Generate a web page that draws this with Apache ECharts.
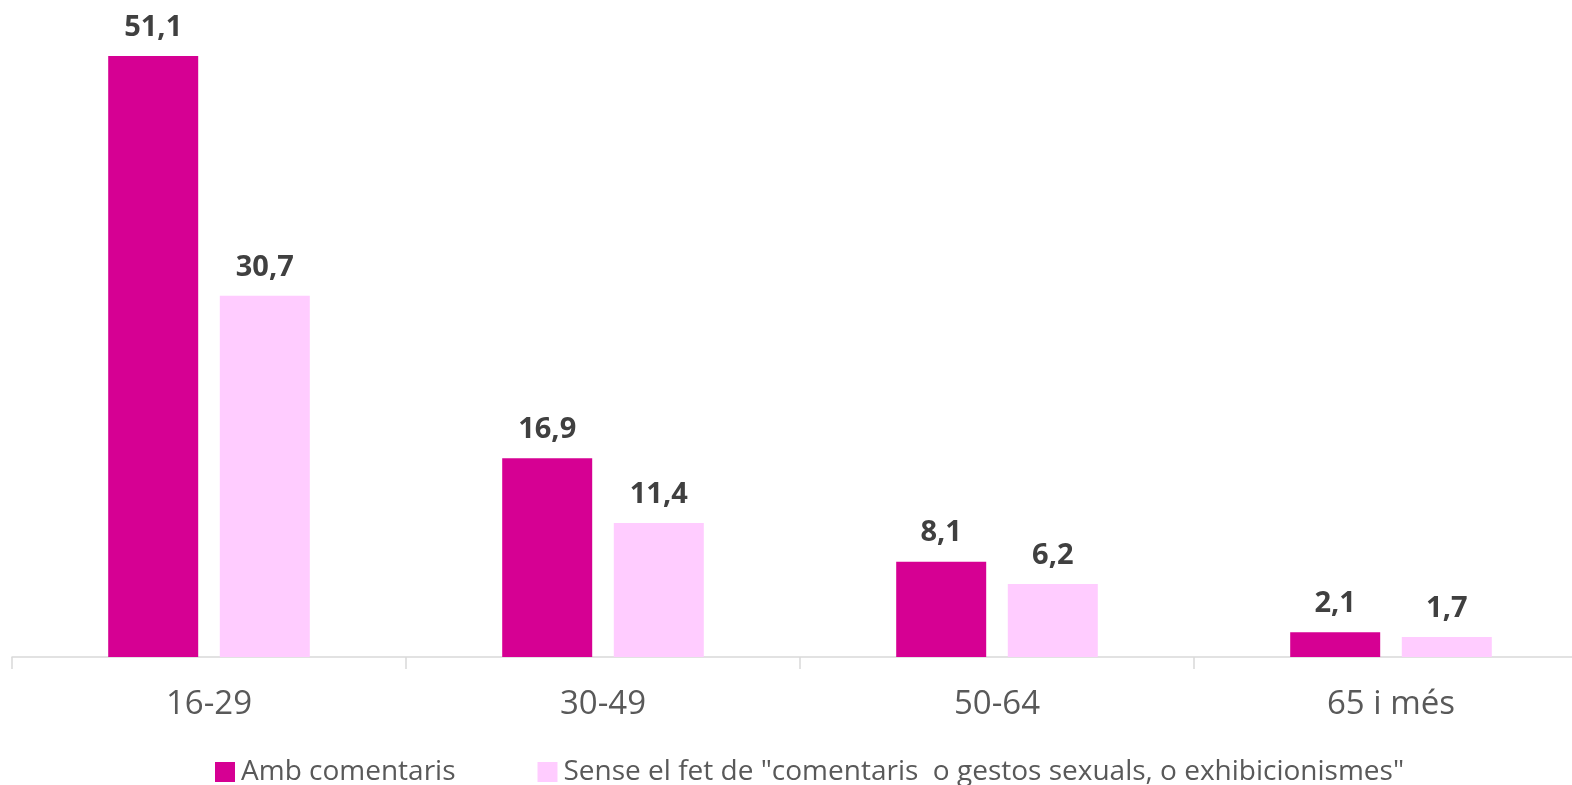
<!DOCTYPE html>
<html>
<head>
<meta charset="utf-8">
<script src="https://cdn.jsdelivr.net/npm/echarts@6/dist/echarts.min.js"></script>
<style>
  html, body { margin: 0; padding: 0; background: #fff; }
  #chart { width: 1572px; height: 785px; }
</style>
</head>
<body>
<div id="chart"></div>
<script>
const categories = ['16-29', '30-49', '50-64', '65 i més'];
const seriesNames = ['Amb comentaris', 'Sense el fet de "comentaris  o gestos sexuals, o exhibicionismes"'];
const ambValues = [51.1, 16.9, 8.1, 2.1];
const senseValues = [30.7, 11.4, 6.2, 1.7];

const FONT = '"Open Sans", sans-serif';
const chart = echarts.init(document.getElementById('chart'), null, { renderer: 'canvas' });

const labelStyle = {
  show: true, position: 'top', distance: 14,
  color: '#404040', fontSize: 29, fontWeight: 'bold', fontFamily: FONT,
  formatter: p => p.value.toFixed(1).replace('.', ',')
};

chart.setOption({
  backgroundColor: '#fff',
  animation: false,
  grid: { left: 12, right: -16, top: 10, bottom: 128, containLabel: false, outerBoundsMode: 'none' },
  legend: {
    data: seriesNames,
    left: 210, top: 753,
    itemWidth: 20, itemHeight: 20, itemGap: 82,
    icon: 'rect',
    textStyle: { color: '#595959', fontSize: 28, fontFamily: FONT, padding: [0, 0, 0, 1] }
  },
  xAxis: {
    type: 'category', data: categories,
    axisLine: { lineStyle: { color: '#d9d9d9', width: 1.5 } },
    axisTick: { show: true, length: 12, lineStyle: { color: '#d9d9d9', width: 1.5 } },
    axisLabel: { color: '#595959', fontSize: 33, fontFamily: FONT, margin: 31 }
  },
  yAxis: {
    type: 'value', min: 0, max: 55,
    show: false, splitLine: { show: false }
  },
  series: [
    {
      name: seriesNames[0], type: 'bar', data: ambValues,
      barWidth: 90, barGap: '24%',
      itemStyle: { color: '#D60093' },
      label: labelStyle
    },
    {
      name: seriesNames[1], type: 'bar', data: senseValues,
      barWidth: 90,
      itemStyle: { color: '#FFCCFF' },
      label: labelStyle
    }
  ]
});
</script>
</body>
</html>
